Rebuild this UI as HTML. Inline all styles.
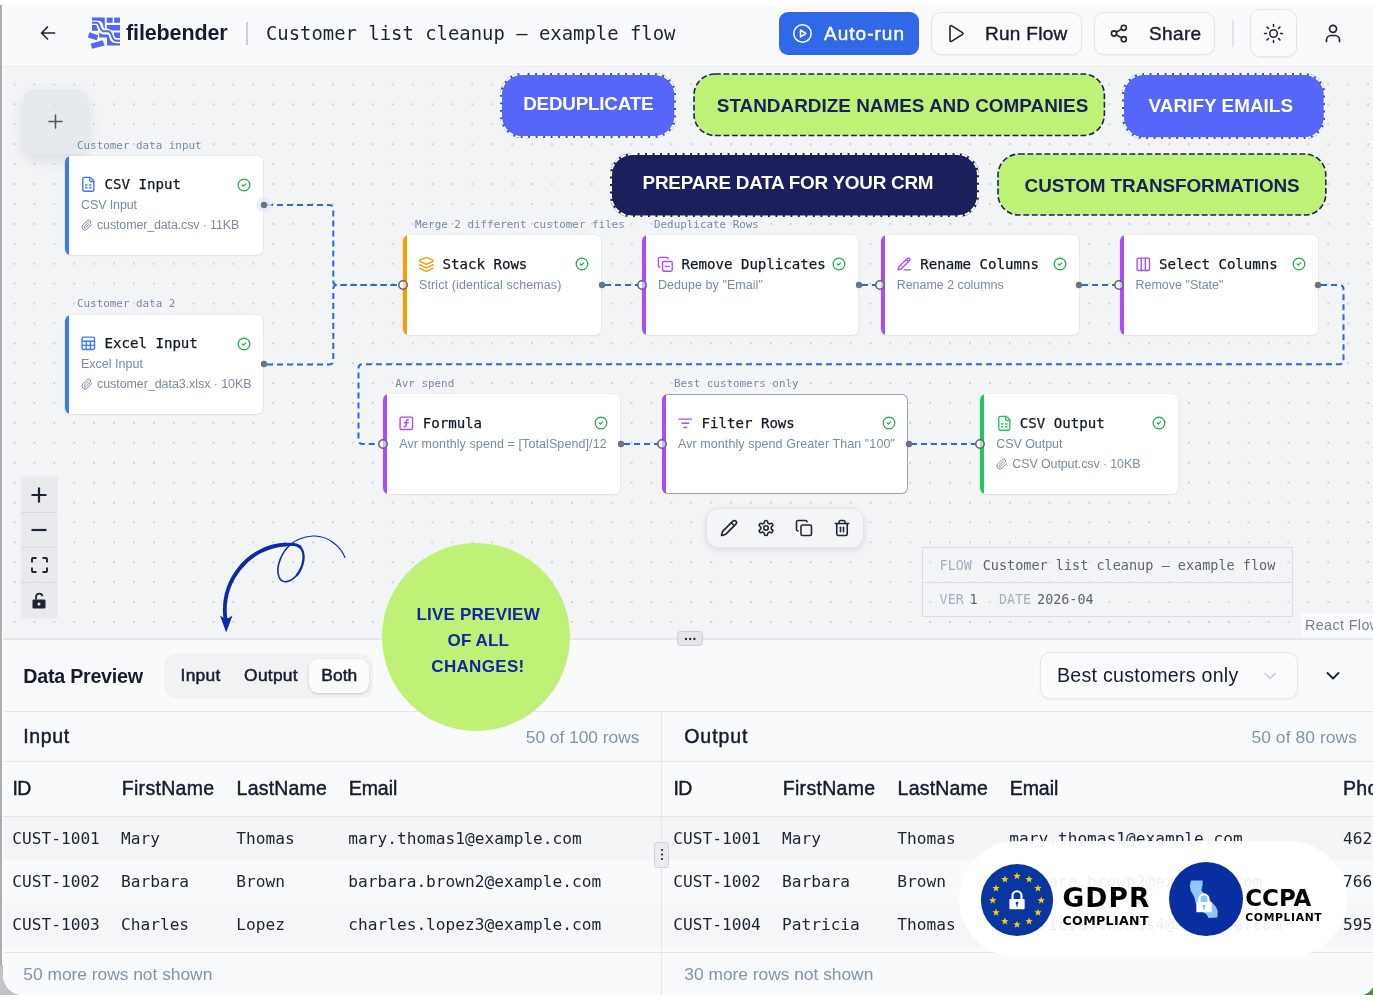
<!DOCTYPE html>
<html lang="en">
<head>
<meta charset="utf-8">
<title>filebender – Customer list cleanup – example flow</title>
<style>
*{box-sizing:border-box;margin:0;padding:0}
html,body{width:1373px;height:1000px;overflow:hidden;background:#fff}
body{font-family:"Liberation Sans",sans-serif;color:#111827;position:relative}
.abs{position:absolute}
.t{white-space:pre}
.mono{font-family:"DejaVu Sans Mono","Liberation Mono",monospace}
#edgeL{left:0;top:5px;width:2px;height:990px;background:#a9adb5}
#cornL{left:0;top:965px;width:30px;height:30px;background:#c0c3c9}
#cornR{left:1350px;top:970px;width:23px;height:25px;background:#5b8a4f}
#app{left:3px;top:5px;width:1371px;height:990px;background:#f9fafb;overflow:hidden;border-radius:0 0 14px 20px}
#hdr{left:0;top:0;width:1371px;height:62px;background:#f9fafb;border-bottom:1px solid #e9ebee}
.obtn{background:#fbfbfc;border:1px solid #e4e6ea;border-radius:10px;box-shadow:0 1px 2px rgba(0,0,0,.05)}
#cv{left:0;top:62px;width:1371px;height:572px;background-color:#f3f4f6;overflow:hidden;
 background-image:radial-gradient(circle,#d0d3d9 0.8px,transparent 1.25px);background-size:19.91px 19.91px;background-position:1.545px 7.545px}
.node{background:#fff;border-radius:6px;box-shadow:0 0 0 1px rgba(15,23,42,.035),0 1px 2px rgba(15,23,42,.05);overflow:hidden}
.node i{position:absolute;left:0;top:0;bottom:0;width:4.200px}
#pn{left:0;top:634px;width:1371px;height:356px;background:#f9fafb}

</style>
</head>
<body>
<div id="edgeL" class="abs"></div>
<div id="cornL" class="abs"></div>
<div id="cornR" class="abs"></div>
<div id="app" class="abs">
<div id="hdr" class="abs">
<svg class="abs" style="left:36px;top:20px" width="18" height="16" viewBox="0 0 18 16" fill="none" stroke="#1e2433" stroke-width="1.7" stroke-linecap="round" stroke-linejoin="round"><path d="M15.5 8H2.5M8.500 2L2.500 8l6 6"/></svg>
<svg class="abs" style="left:81px;top:8px" width="40" height="40" viewBox="0 0 40 40" ><g fill="#5566f4">
<path d="M8 4.600H20.800V15.600C19.200 15.600 19.600 12 18.400 10 17.200 8 15.500 7.400 13 7.400H8Z"/>
<rect x="22.800" y="4.600" width="5.800" height="5.200"/>
<rect x="30.200" y="4.600" width="5.800" height="5.200"/>
<path d="M22.800 12H36V17.600H29C26.500 17.400 25.500 15.800 22.800 15.600Z"/>
<path d="M30 19.600H36V25H33.300C31.200 25 30.200 23.500 30 21.500Z"/>
<path d="M8 12H12.400L14.200 17.800H8Z"/>
<path d="M15.200 19.800L18.500 21.500H24.200C25.600 24 25.400 28.400 29.800 29.800 32 30.400 34 30.300 36 30.300V32.600H23V24.600H15.200Z"/>
<path d="M3.800 24.400L5.500 19.200 14.300 22.300 12.600 27.300Z"/>
<path d="M6.500 30.800L18.600 27.200 20.600 32.400 8.300 35.800Z"/>
</g>
<path d="M8 9.700H12.600C16.600 9.700 15.200 18.200 19.600 18.200H24C28.600 18.200 27.200 27.700 31.600 27.700H36" fill="none" stroke="#5566f4" stroke-width="1.900"/></svg>
<div class="abs t" style="font-size:21.5px;line-height:30px;color:#161c2d;top:13px;left:123px;font-weight:700;letter-spacing:-0.12px;">filebender</div>
<div class="abs" style="left:243px;top:17px;width:1.5px;height:23px;background:#cdd2da"></div>
<div class="abs t mono" style="font-size:18.9px;line-height:26px;color:#1c2333;top:15px;left:263px;">Customer list cleanup – example flow</div>
<div class="abs" style="left:776px;top:7px;width:140px;height:43px;background:#3069e8;border-radius:9px"></div>
<svg class="abs" style="left:789px;top:18px" width="21" height="21" viewBox="0 0 21 21" fill="none" stroke="#fff" stroke-width="1.5" stroke-linejoin="round"><circle cx="10.500" cy="10.500" r="8.700"/><path d="M8.500 7l5.300 3.500-5.300 3.500z"/></svg>
<div class="abs t" style="font-size:19px;line-height:27px;color:#fff;top:15px;left:821px;-webkit-text-stroke:0.45px #fff;letter-spacing:1.02px;">Auto-run</div>
<div class="abs obtn" style="left:927.5px;top:7px;width:151px;height:42.5px;"></div>
<svg class="abs" style="left:943px;top:18px" width="20" height="21" viewBox="0 0 20 21" fill="none" stroke="#1e2433" stroke-width="1.6" stroke-linejoin="round"><path d="M4 3.500c0-.8.800-1.200 1.500-.8l11 7c.600.400.600 1.200 0 1.600l-11 7c-.7.400-1.500 0-1.500-.8z"/></svg>
<div class="abs t" style="font-size:19px;line-height:27px;color:#161c2d;top:15px;left:982px;-webkit-text-stroke:0.4px #161c2d;letter-spacing:0.28px;">Run Flow</div>
<div class="abs obtn" style="left:1090.5px;top:7px;width:121.5px;height:42.5px;"></div>
<svg class="abs" style="left:1106px;top:18px" width="20" height="21" viewBox="0 0 20 21" fill="none" stroke="#1e2433" stroke-width="1.6" stroke-linecap="round"><circle cx="14.800" cy="4.800" r="2.600"/><circle cx="5" cy="10.500" r="2.600"/><circle cx="14.800" cy="16.200" r="2.600"/><path d="M7.300 9.200l5.200-3.100M7.300 11.800l5.200 3.100"/></svg>
<div class="abs t" style="font-size:19px;line-height:27px;color:#161c2d;top:15px;left:1146px;-webkit-text-stroke:0.4px #161c2d;letter-spacing:0.36px;">Share</div>
<div class="abs" style="left:1229.3px;top:15px;width:1.4px;height:26.5px;background:#e3e5ea"></div>
<div class="abs obtn" style="left:1247px;top:4px;width:47px;height:48px;border-radius:10px"></div>
<svg class="abs" style="left:1259px;top:17px" width="23" height="23" viewBox="0 0 23 23" fill="none" stroke="#1e2433" stroke-width="1.5" stroke-linecap="round"><circle cx="11.500" cy="11.500" r="3.800"/><path d="M11.500 2.500v2M11.500 18.500v2M2.500 11.500h2M18.500 11.500h2M5.100 5.100l1.400 1.400M16.500 16.500l1.400 1.400M5.100 17.900l1.400-1.400M16.500 6.500l1.400-1.400"/></svg>
<svg class="abs" style="left:1320px;top:18px" width="20" height="21" viewBox="0 0 20 21" fill="none" stroke="#1e2433" stroke-width="1.7" stroke-linecap="round"><circle cx="10" cy="5.800" r="3.500"/><path d="M3.500 18.500v-1.500a4.500 4.500 0 0 1 4.500-4.500h4a4.500 4.500 0 0 1 4.500 4.500v1.500"/></svg>
</div>
<div id="cv" class="abs">
<div class="abs" style="left:20px;top:22px;width:64.5px;height:64.5px;background:rgba(224,226,231,.6);border-radius:13px;box-shadow:0 6px 14px rgba(15,23,42,.10)"></div>
<svg class="abs" style="left:44.5px;top:46.5px" width="15" height="15" viewBox="0 0 15 15" fill="none" stroke="#4b5565" stroke-width="1.5" stroke-linecap="round"><path d="M7.500 1v13M1 7.500h13"/></svg>
<svg class="abs" style="left:0;top:0" width="1370" height="572" viewBox="0 0 1370 572" fill="none" stroke="#2a65ee" stroke-width="2" stroke-dasharray="6 4"><path d="M264 138L326.3 138Q330.3 138 330.3 142L330.3 214Q330.3 218 334.3 218L395 218"/><path d="M264 297.5L326.3 297.5Q330.3 297.5 330.3 293.5L330.3 222Q330.3 218 334.3 218L395 218"/><path d="M602 218L635 218"/><path d="M859 218L873 218"/><path d="M1079 218L1112 218"/><path d="M1318 218L1336.5 218Q1340.5 218 1340.5 222L1340.5 293.3Q1340.5 297.3 1336.5 297.3L359.5 297.3Q355.5 297.3 355.5 301.3L355.5 373Q355.5 377 359.5 377L375 377"/><path d="M621 377L654 377"/><path d="M908 377L972 377"/></svg>
<div class="abs t mono" style="font-size:10.9px;line-height:15px;color:#7b889d;top:71px;left:74px;">Customer data input</div>
<div class="abs node" style="left:62px;top:88.5px;width:198px;height:99.5px;"><i style="background:#3b7cf6"></i></div>
<svg class="abs" style="left:77.2px;top:109.1px" width="16.6" height="16.6" viewBox="0 0 24 24" fill="none" stroke="#3b7cf6" stroke-width="2" stroke-linecap="round" stroke-linejoin="round"><path d="M15 2H6a2 2 0 0 0-2 2v16a2 2 0 0 0 2 2h12a2 2 0 0 0 2-2V7Z"/><path d="M14 2v4a2 2 0 0 0 2 2h4"/><path d="M8 13h2"/><path d="M14 13h2"/><path d="M8 17h2"/><path d="M14 17h2"/></svg>
<div class="abs t mono" style="font-size:14.1px;line-height:20px;color:#111827;top:107px;left:101.5px;-webkit-text-stroke:0.25px #111827;">CSV Input</div>
<svg class="abs" style="left:234px;top:110.5px" width="14" height="14" viewBox="0 0 24 24" fill="none" stroke="#1fa84a" stroke-width="2.1" stroke-linecap="round" stroke-linejoin="round"><circle cx="12" cy="12" r="10"/><path d="m9 12 2 2 4-4"/></svg>
<div class="abs t" style="font-size:12.5px;line-height:18px;color:#7b8ba3;top:129px;left:78px;letter-spacing:-0.11px;">CSV Input</div>
<svg class="abs" style="left:78px;top:151.7px" width="12" height="12" viewBox="0 0 24 24" fill="none" stroke="#7b8ba3" stroke-width="2" stroke-linecap="round" stroke-linejoin="round"><path d="m21.440 11.050-9.190 9.190a6 6 0 0 1-8.490-8.490l8.570-8.570A4 4 0 1 1 18 8.840l-8.590 8.570a2 2 0 0 1-2.830-2.830l8.490-8.480"/></svg>
<div class="abs t" style="font-size:12.5px;line-height:18px;color:#7b8ba3;top:149px;left:94px;letter-spacing:-0.15px;">customer_data.csv · 11KB</div>
<svg class="abs" style="left:252.7px;top:130.2px" width="16" height="16" viewBox="0 0 16 16" ><circle cx="8" cy="8" r="7.500" fill="#e6e9f6" opacity=".8"/><circle cx="8" cy="8" r="3.200" fill="#6b7280"/></svg>
<div class="abs t mono" style="font-size:10.9px;line-height:15px;color:#7b889d;top:229px;left:74px;">Customer data 2</div>
<div class="abs node" style="left:62px;top:247.5px;width:198px;height:99.5px;"><i style="background:#3b7cf6"></i></div>
<svg class="abs" style="left:77.2px;top:268.1px" width="16.6" height="16.6" viewBox="0 0 24 24" fill="none" stroke="#3b7cf6" stroke-width="2" stroke-linecap="round" stroke-linejoin="round"><rect width="18" height="18" x="3" y="3" rx="2"/><path d="M3 9h18"/><path d="M3 15h18"/><path d="M9 9v12"/><path d="M15 9v12"/></svg>
<div class="abs t mono" style="font-size:14.1px;line-height:20px;color:#111827;top:266px;left:101.5px;-webkit-text-stroke:0.25px #111827;">Excel Input</div>
<svg class="abs" style="left:234px;top:269.5px" width="14" height="14" viewBox="0 0 24 24" fill="none" stroke="#1fa84a" stroke-width="2.1" stroke-linecap="round" stroke-linejoin="round"><circle cx="12" cy="12" r="10"/><path d="m9 12 2 2 4-4"/></svg>
<div class="abs t" style="font-size:12.5px;line-height:18px;color:#7b8ba3;top:288px;left:78px;letter-spacing:0.01px;">Excel Input</div>
<svg class="abs" style="left:78px;top:310.7px" width="12" height="12" viewBox="0 0 24 24" fill="none" stroke="#7b8ba3" stroke-width="2" stroke-linecap="round" stroke-linejoin="round"><path d="m21.440 11.050-9.190 9.190a6 6 0 0 1-8.490-8.490l8.570-8.570A4 4 0 1 1 18 8.840l-8.590 8.570a2 2 0 0 1-2.830-2.830l8.490-8.480"/></svg>
<div class="abs t" style="font-size:12.5px;line-height:18px;color:#7b8ba3;top:308px;left:94px;letter-spacing:-0.07px;">customer_data3.xlsx · 10KB</div>
<svg class="abs" style="left:252.7px;top:289.2px" width="16" height="16" viewBox="0 0 16 16" ><circle cx="8" cy="8" r="3.200" fill="#6b7280"/></svg>
<div class="abs t mono" style="font-size:10.9px;line-height:15px;color:#7b889d;top:150px;left:412px;">Merge 2 different customer files</div>
<div class="abs node" style="left:400px;top:168px;width:198px;height:99.5px;"><i style="background:#f59e0b"></i></div>
<svg class="abs" style="left:415.2px;top:188.6px" width="16.6" height="16.6" viewBox="0 0 24 24" fill="none" stroke="#f59e0b" stroke-width="2" stroke-linecap="round" stroke-linejoin="round"><path d="m12.830 2.180a2 2 0 0 0-1.660 0L2.600 6.080a1 1 0 0 0 0 1.830l8.580 3.910a2 2 0 0 0 1.660 0l8.580-3.900a1 1 0 0 0 0-1.830Z"/><path d="m22 17.650-9.170 4.160a2 2 0 0 1-1.660 0L2 17.650"/><path d="m22 12.650-9.170 4.160a2 2 0 0 1-1.660 0L2 12.650"/></svg>
<div class="abs t mono" style="font-size:14.1px;line-height:20px;color:#111827;top:187px;left:439.5px;-webkit-text-stroke:0.25px #111827;">Stack Rows</div>
<svg class="abs" style="left:572px;top:190px" width="14" height="14" viewBox="0 0 24 24" fill="none" stroke="#1fa84a" stroke-width="2.1" stroke-linecap="round" stroke-linejoin="round"><circle cx="12" cy="12" r="10"/><path d="m9 12 2 2 4-4"/></svg>
<div class="abs t" style="font-size:12.5px;line-height:18px;color:#7b8ba3;top:209px;left:416px;letter-spacing:0.11px;">Strict (identical schemas)</div>
<svg class="abs" style="left:590.7px;top:209.7px" width="16" height="16" viewBox="0 0 16 16" ><circle cx="8" cy="8" r="3.200" fill="#6b7280"/></svg>
<svg class="abs" style="left:393.5px;top:211.7px" width="12" height="12" viewBox="0 0 12 12" ><circle cx="6" cy="6" r="4.200" fill="rgba(255,255,255,.55)" stroke="#5f6673" stroke-width="1.600"/></svg>
<div class="abs t mono" style="font-size:10.9px;line-height:15px;color:#7b889d;top:150px;left:651px;">Deduplicate Rows</div>
<div class="abs node" style="left:639px;top:168px;width:216.3px;height:99.5px;"><i style="background:#a94ef7"></i></div>
<svg class="abs" style="left:654.2px;top:188.6px" width="16.6" height="16.6" viewBox="0 0 24 24" fill="none" stroke="#a94ef7" stroke-width="2" stroke-linecap="round" stroke-linejoin="round"><line x1="12" x2="18" y1="15" y2="15"/><rect width="14" height="14" x="8" y="8" rx="2" ry="2"/><path d="M4 16c-1.100 0-2-.9-2-2V4c0-1.100.9-2 2-2h10c1.100 0 2 .9 2 2"/></svg>
<div class="abs t mono" style="font-size:14.1px;line-height:20px;color:#111827;top:187px;left:678.5px;-webkit-text-stroke:0.25px #111827;">Remove Duplicates</div>
<svg class="abs" style="left:829.3px;top:190px" width="14" height="14" viewBox="0 0 24 24" fill="none" stroke="#1fa84a" stroke-width="2.1" stroke-linecap="round" stroke-linejoin="round"><circle cx="12" cy="12" r="10"/><path d="m9 12 2 2 4-4"/></svg>
<div class="abs t" style="font-size:12.5px;line-height:18px;color:#7b8ba3;top:209px;left:655px;letter-spacing:0.05px;">Dedupe by "Email"</div>
<svg class="abs" style="left:848px;top:209.7px" width="16" height="16" viewBox="0 0 16 16" ><circle cx="8" cy="8" r="3.200" fill="#6b7280"/></svg>
<svg class="abs" style="left:632.5px;top:211.7px" width="12" height="12" viewBox="0 0 12 12" ><circle cx="6" cy="6" r="4.200" fill="rgba(255,255,255,.55)" stroke="#5f6673" stroke-width="1.600"/></svg>
<div class="abs node" style="left:877.7px;top:168px;width:198px;height:99.5px;"><i style="background:#a94ef7"></i></div>
<svg class="abs" style="left:892.9px;top:188.6px" width="16.6" height="16.6" viewBox="0 0 24 24" fill="none" stroke="#a94ef7" stroke-width="2" stroke-linecap="round" stroke-linejoin="round"><path d="M12 20h9"/><path d="M16.500 3.500a2.120 2.120 0 0 1 3 3L7 19l-4 1 1-4Z"/><path d="m15 5 3 3"/></svg>
<div class="abs t mono" style="font-size:14.1px;line-height:20px;color:#111827;top:187px;left:917.2px;-webkit-text-stroke:0.25px #111827;">Rename Columns</div>
<svg class="abs" style="left:1049.7px;top:190px" width="14" height="14" viewBox="0 0 24 24" fill="none" stroke="#1fa84a" stroke-width="2.1" stroke-linecap="round" stroke-linejoin="round"><circle cx="12" cy="12" r="10"/><path d="m9 12 2 2 4-4"/></svg>
<div class="abs t" style="font-size:12.5px;line-height:18px;color:#7b8ba3;top:209px;left:893.7px;letter-spacing:-0.04px;">Rename 2 columns</div>
<svg class="abs" style="left:1068.4px;top:209.7px" width="16" height="16" viewBox="0 0 16 16" ><circle cx="8" cy="8" r="3.200" fill="#6b7280"/></svg>
<svg class="abs" style="left:871.2px;top:211.7px" width="12" height="12" viewBox="0 0 12 12" ><circle cx="6" cy="6" r="4.200" fill="rgba(255,255,255,.55)" stroke="#5f6673" stroke-width="1.600"/></svg>
<div class="abs node" style="left:1116.5px;top:168px;width:198px;height:99.5px;"><i style="background:#a94ef7"></i></div>
<svg class="abs" style="left:1131.7px;top:188.6px" width="16.6" height="16.6" viewBox="0 0 24 24" fill="none" stroke="#a94ef7" stroke-width="2" stroke-linecap="round" stroke-linejoin="round"><rect width="18" height="18" x="3" y="3" rx="2"/><path d="M9 3v18"/><path d="M15 3v18"/></svg>
<div class="abs t mono" style="font-size:14.1px;line-height:20px;color:#111827;top:187px;left:1156px;-webkit-text-stroke:0.25px #111827;">Select Columns</div>
<svg class="abs" style="left:1288.5px;top:190px" width="14" height="14" viewBox="0 0 24 24" fill="none" stroke="#1fa84a" stroke-width="2.1" stroke-linecap="round" stroke-linejoin="round"><circle cx="12" cy="12" r="10"/><path d="m9 12 2 2 4-4"/></svg>
<div class="abs t" style="font-size:12.5px;line-height:18px;color:#7b8ba3;top:209px;left:1132.5px;letter-spacing:-0.01px;">Remove "State"</div>
<svg class="abs" style="left:1307.2px;top:209.7px" width="16" height="16" viewBox="0 0 16 16" ><circle cx="8" cy="8" r="3.200" fill="#6b7280"/></svg>
<svg class="abs" style="left:1110px;top:211.7px" width="12" height="12" viewBox="0 0 12 12" ><circle cx="6" cy="6" r="4.200" fill="rgba(255,255,255,.55)" stroke="#5f6673" stroke-width="1.600"/></svg>
<div class="abs t mono" style="font-size:10.9px;line-height:15px;color:#7b889d;top:309px;left:392.2px;">Avr spend</div>
<div class="abs node" style="left:380.2px;top:327.3px;width:236.7px;height:99.5px;"><i style="background:#a94ef7"></i></div>
<svg class="abs" style="left:395.4px;top:347.9px" width="16.6" height="16.6" viewBox="0 0 24 24" fill="none" stroke="#a94ef7" stroke-width="2" stroke-linecap="round" stroke-linejoin="round"><rect width="18" height="18" x="3" y="3" rx="2" ry="2"/><path d="M9 17c2 0 2.800-1 2.800-2.800V10c0-2 1-3.300 3.200-3"/><path d="M9 11.200h5.700"/></svg>
<div class="abs t mono" style="font-size:14.1px;line-height:20px;color:#111827;top:346px;left:419.7px;-webkit-text-stroke:0.25px #111827;">Formula</div>
<svg class="abs" style="left:590.9px;top:349.3px" width="14" height="14" viewBox="0 0 24 24" fill="none" stroke="#1fa84a" stroke-width="2.1" stroke-linecap="round" stroke-linejoin="round"><circle cx="12" cy="12" r="10"/><path d="m9 12 2 2 4-4"/></svg>
<div class="abs t" style="font-size:12.5px;line-height:18px;color:#7b8ba3;top:368px;left:396.2px;letter-spacing:0.09px;">Avr monthly spend = [TotalSpend]/12</div>
<svg class="abs" style="left:609.6px;top:369px" width="16" height="16" viewBox="0 0 16 16" ><circle cx="8" cy="8" r="3.200" fill="#6b7280"/></svg>
<svg class="abs" style="left:373.7px;top:371px" width="12" height="12" viewBox="0 0 12 12" ><circle cx="6" cy="6" r="4.200" fill="rgba(255,255,255,.55)" stroke="#5f6673" stroke-width="1.600"/></svg>
<div class="abs t mono" style="font-size:10.9px;line-height:15px;color:#7b889d;top:309px;left:671px;">Best customers only</div>
<div class="abs node" style="left:659px;top:327.2px;width:245.8px;height:99.8px;box-shadow:inset 0 0 0 1px #9aa1ad;"><i style="background:#a94ef7"></i></div>
<svg class="abs" style="left:674.2px;top:347.8px" width="16.6" height="16.6" viewBox="0 0 24 24" fill="none" stroke="#a94ef7" stroke-width="2" stroke-linecap="round" stroke-linejoin="round"><path d="M3 6h18"/><path d="M7 12h10"/><path d="M10 18h4"/></svg>
<div class="abs t mono" style="font-size:14.1px;line-height:20px;color:#111827;top:346px;left:698.5px;-webkit-text-stroke:0.25px #111827;">Filter Rows</div>
<svg class="abs" style="left:878.8px;top:349.2px" width="14" height="14" viewBox="0 0 24 24" fill="none" stroke="#1fa84a" stroke-width="2.1" stroke-linecap="round" stroke-linejoin="round"><circle cx="12" cy="12" r="10"/><path d="m9 12 2 2 4-4"/></svg>
<div class="abs t" style="font-size:12.5px;line-height:18px;color:#7b8ba3;top:368px;left:675px;letter-spacing:0.08px;">Avr monthly spend Greater Than "100"</div>
<svg class="abs" style="left:897.5px;top:368.9px" width="16" height="16" viewBox="0 0 16 16" ><circle cx="8" cy="8" r="3.200" fill="#6b7280"/></svg>
<svg class="abs" style="left:652.5px;top:370.9px" width="12" height="12" viewBox="0 0 12 12" ><circle cx="6" cy="6" r="4.200" fill="rgba(255,255,255,.55)" stroke="#5f6673" stroke-width="1.600"/></svg>
<div class="abs node" style="left:977.3px;top:327.3px;width:198px;height:99.5px;"><i style="background:#22c55e"></i></div>
<svg class="abs" style="left:992.5px;top:347.9px" width="16.6" height="16.6" viewBox="0 0 24 24" fill="none" stroke="#22c55e" stroke-width="2" stroke-linecap="round" stroke-linejoin="round"><path d="M15 2H6a2 2 0 0 0-2 2v16a2 2 0 0 0 2 2h12a2 2 0 0 0 2-2V7Z"/><path d="M14 2v4a2 2 0 0 0 2 2h4"/><path d="M8 13h2"/><path d="M14 13h2"/><path d="M8 17h2"/><path d="M14 17h2"/></svg>
<div class="abs t mono" style="font-size:14.1px;line-height:20px;color:#111827;top:346px;left:1016.8px;-webkit-text-stroke:0.25px #111827;">CSV Output</div>
<svg class="abs" style="left:1149.3px;top:349.3px" width="14" height="14" viewBox="0 0 24 24" fill="none" stroke="#1fa84a" stroke-width="2.1" stroke-linecap="round" stroke-linejoin="round"><circle cx="12" cy="12" r="10"/><path d="m9 12 2 2 4-4"/></svg>
<div class="abs t" style="font-size:12.5px;line-height:18px;color:#7b8ba3;top:368px;left:993.3px;letter-spacing:-0.07px;">CSV Output</div>
<svg class="abs" style="left:993.3px;top:390.5px" width="12" height="12" viewBox="0 0 24 24" fill="none" stroke="#7b8ba3" stroke-width="2" stroke-linecap="round" stroke-linejoin="round"><path d="m21.440 11.050-9.190 9.190a6 6 0 0 1-8.490-8.490l8.570-8.570A4 4 0 1 1 18 8.840l-8.590 8.570a2 2 0 0 1-2.830-2.830l8.490-8.480"/></svg>
<div class="abs t" style="font-size:12.5px;line-height:18px;color:#7b8ba3;top:388px;left:1009.3px;letter-spacing:-0.12px;">CSV Output.csv · 10KB</div>
<svg class="abs" style="left:970.8px;top:371px" width="12" height="12" viewBox="0 0 12 12" ><circle cx="6" cy="6" r="4.200" fill="rgba(255,255,255,.55)" stroke="#5f6673" stroke-width="1.600"/></svg>
<div class="abs" style="left:703px;top:441.3px;width:158.2px;height:39.6px;background:#f4f5f7;border:1px solid #e3e5e9;border-radius:12px;box-shadow:0 2px 6px rgba(15,23,42,.10)"></div>
<svg class="abs" style="left:716.5px;top:452.3px" width="18" height="18" viewBox="0 0 24 24" fill="none" stroke="#1e2433" stroke-width="2.1" stroke-linecap="round" stroke-linejoin="round"><path d="M21.174 6.812a1 1 0 0 0-3.986-3.987L3.842 16.174a2 2 0 0 0-.5.830l-1.321 4.352a.5.500 0 0 0 .623.622l4.353-1.320a2 2 0 0 0 .830-.497z"/><path d="m15 5 4 4"/></svg>
<svg class="abs" style="left:754.3px;top:452.3px" width="18" height="18" viewBox="0 0 24 24" fill="none" stroke="#1e2433" stroke-width="2.1" stroke-linecap="round" stroke-linejoin="round"><path d="M12.220 2h-.440a2 2 0 0 0-2 2v.180a2 2 0 0 1-1 1.730l-.430.250a2 2 0 0 1-2 0l-.150-.080a2 2 0 0 0-2.730.730l-.220.380a2 2 0 0 0 .730 2.730l.150.100a2 2 0 0 1 1 1.720v.510a2 2 0 0 1-1 1.740l-.150.090a2 2 0 0 0-.730 2.730l.220.380a2 2 0 0 0 2.730.730l.150-.080a2 2 0 0 1 2 0l.430.250a2 2 0 0 1 1 1.730V20a2 2 0 0 0 2 2h.440a2 2 0 0 0 2-2v-.180a2 2 0 0 1 1-1.730l.430-.250a2 2 0 0 1 2 0l.150.080a2 2 0 0 0 2.730-.730l.220-.390a2 2 0 0 0-.730-2.730l-.150-.080a2 2 0 0 1-1-1.740v-.500a2 2 0 0 1 1-1.740l.150-.090a2 2 0 0 0 .730-2.730l-.220-.380a2 2 0 0 0-2.730-.730l-.150.080a2 2 0 0 1-2 0l-.430-.250a2 2 0 0 1-1-1.730V4a2 2 0 0 0-2-2z"/><circle cx="12" cy="12" r="3"/></svg>
<svg class="abs" style="left:792px;top:452.3px" width="18" height="18" viewBox="0 0 24 24" fill="none" stroke="#1e2433" stroke-width="2.1" stroke-linecap="round" stroke-linejoin="round"><rect width="14" height="14" x="8" y="8" rx="2" ry="2"/><path d="M4 16c-1.100 0-2-.9-2-2V4c0-1.100.9-2 2-2h10c1.100 0 2 .9 2 2"/></svg>
<svg class="abs" style="left:829.6px;top:452.3px" width="18" height="18" viewBox="0 0 24 24" fill="none" stroke="#1e2433" stroke-width="2.1" stroke-linecap="round" stroke-linejoin="round"><path d="M3 6h18"/><path d="M19 6v14c0 1-1 2-2 2H7c-1 0-2-1-2-2V6"/><path d="M8 6V4c0-1 1-2 2-2h4c1 0 2 1 2 2v2"/><line x1="10" x2="10" y1="11" y2="17"/><line x1="14" x2="14" y1="11" y2="17"/></svg>
<div class="abs" style="left:919px;top:480.2px;width:370.8px;height:69.8px;border:1.800px solid #dadde2;background:rgba(243,244,246,.35)"></div>
<div class="abs" style="left:919.4px;top:514.5px;width:369.8px;height:1.6px;background:#dadde2"></div>
<div class="abs t mono" style="font-size:13.4px;line-height:19px;color:#a3b0c4;top:489px;left:936.6px;">FLOW</div>
<div class="abs t mono" style="font-size:13.5px;line-height:19px;color:#5b6472;top:489px;left:979.7px;">Customer list cleanup – example flow</div>
<div class="abs t mono" style="font-size:13.4px;line-height:19px;color:#a3b0c4;top:523px;left:936.6px;">VER</div>
<div class="abs t mono" style="font-size:13.4px;line-height:19px;color:#5b6472;top:523px;left:966.5px;">1</div>
<div class="abs t mono" style="font-size:13.4px;line-height:19px;color:#a3b0c4;top:523px;left:995.9px;">DATE</div>
<div class="abs t mono" style="font-size:13.4px;line-height:19px;color:#5b6472;top:523px;left:1034.1px;">2026-04</div>
<div class="abs" style="left:1298px;top:546px;width:81px;height:26px;background:rgba(249,250,251,.85)"></div>
<div class="abs t" style="font-size:14.3px;line-height:20px;color:#7a818d;top:548px;left:1302px;letter-spacing:0.4px;">React Flow</div>
<div class="abs" style="left:18.2px;top:410px;width:36px;height:140.8px;background:rgba(229,231,235,.75);box-shadow:0 0 2px rgba(0,0,0,.06)"></div>
<div class="abs" style="left:18.2px;top:444.6px;width:36px;height:1px;background:#d9dce1"></div>
<div class="abs" style="left:18.2px;top:479.8px;width:36px;height:1px;background:#d9dce1"></div>
<div class="abs" style="left:18.2px;top:514.8px;width:36px;height:1px;background:#d9dce1"></div>
<svg class="abs" style="left:27px;top:419px" width="18" height="18" viewBox="0 0 18 18" fill="none" stroke="#1e2433" stroke-width="2.2"><path d="M9 1.500v15M1.500 9h15"/></svg>
<svg class="abs" style="left:27px;top:453.5px" width="18" height="18" viewBox="0 0 18 18" fill="none" stroke="#1e2433" stroke-width="2.2"><path d="M1.500 9h15"/></svg>
<svg class="abs" style="left:27.5px;top:490px" width="17" height="16" viewBox="0 0 17 16" fill="none" stroke="#1e2433" stroke-width="1.9"><path d="M1 5.500v-3.500a1 1 0 0 1 1-1h3.500M11.500 1h3.500a1 1 0 0 1 1 1v3.500M16 10.500v3.500a1 1 0 0 1-1 1h-3.500M5.500 15h-3.500a1 1 0 0 1-1-1v-3.500"/></svg>
<svg class="abs" style="left:29px;top:525px" width="14" height="17" viewBox="0 0 14 17" ><path d="M1.500 7.500h11a1 1 0 0 1 1 1v7a1 1 0 0 1-1 1h-11a1 1 0 0 1-1-1v-7a1 1 0 0 1 1-1z" fill="#1e2433"/><path d="M4 7.500v-2.500a3.300 3.300 0 0 1 6.500-.8" fill="none" stroke="#1e2433" stroke-width="1.800"/><circle cx="7" cy="12" r="1.500" fill="#e9ebee"/></svg>
<svg class="abs" style="left:496.8px;top:6.3px" width="176.3" height="65" viewBox="0 0 176.3 65" ><rect x="1" y="1" width="174.3" height="63" rx="21" fill="#5566f9" stroke="#3a46c6" stroke-width="2"/><rect x="1" y="1" width="174.3" height="63" rx="21" fill="none" stroke="#fff" stroke-width="2" stroke-dasharray="5.600 1.900"/></svg>
<div class="abs t" style="font-size:18.9px;line-height:26px;color:#fff;top:24px;left:520.2px;font-weight:700;letter-spacing:-0.25px;">DEDUPLICATE</div>
<svg class="abs" style="left:690.3px;top:6px" width="412.4" height="63.5" viewBox="0 0 412.4 63.5" ><rect x="1" y="1" width="410.4" height="61.5" rx="21" fill="#bef277" stroke="#1b1f5c" stroke-width="1.600" stroke-dasharray="5.800 2.700"/></svg>
<div class="abs t" style="font-size:18.9px;line-height:26px;color:#1b1f5c;top:26px;left:713.8px;font-weight:700;letter-spacing:0.01px;">STANDARDIZE NAMES AND COMPANIES</div>
<svg class="abs" style="left:1118.5px;top:5.8px" width="203.7" height="66.2" viewBox="0 0 203.7 66.2" ><rect x="1" y="1" width="201.7" height="64.2" rx="21" fill="#5566f9" stroke="#3a46c6" stroke-width="2"/><rect x="1" y="1" width="201.7" height="64.2" rx="21" fill="none" stroke="#fff" stroke-width="2" stroke-dasharray="5.600 1.900"/></svg>
<div class="abs t" style="font-size:18.9px;line-height:26px;color:#fff;top:26px;left:1145.6px;font-weight:700;letter-spacing:0.02px;">VARIFY EMAILS</div>
<svg class="abs" style="left:607px;top:86px" width="369" height="64.4" viewBox="0 0 369 64.4" ><rect x="1" y="1" width="367" height="62.4" rx="21" fill="#1b1f5c" stroke="#1b1f5c" stroke-width="2"/><rect x="1" y="1" width="367" height="62.4" rx="21" fill="none" stroke="#fff" stroke-width="2" stroke-dasharray="5.600 1.900"/></svg>
<div class="abs t" style="font-size:18.9px;line-height:26px;color:#fff;top:103px;left:639.6px;font-weight:700;letter-spacing:-0.25px;">PREPARE DATA FOR YOUR CRM</div>
<svg class="abs" style="left:994px;top:86px" width="329.8" height="63" viewBox="0 0 329.8 63" ><rect x="1" y="1" width="327.8" height="61" rx="21" fill="#bef277" stroke="#1b1f5c" stroke-width="1.600" stroke-dasharray="5.800 2.700"/></svg>
<div class="abs t" style="font-size:18.9px;line-height:26px;color:#1b1f5c;top:106px;left:1021.6px;font-weight:700;letter-spacing:-0.11px;">CUSTOM TRANSFORMATIONS</div>
</div>
<div id="pn" class="abs">
<div class="abs t" style="font-size:19.7px;line-height:28px;color:#161c2d;top:23px;left:20.3px;font-weight:700;letter-spacing:-0.26px;">Data Preview</div>
<div class="abs" style="left:160.7px;top:15.1px;width:209.8px;height:43.7px;background:#f1f2f4;border-radius:11px"></div>
<div class="abs t" style="font-size:17.4px;line-height:24px;color:#161c2d;top:24px;left:177.6px;-webkit-text-stroke:0.5px #161c2d;letter-spacing:0.26px;">Input</div>
<div class="abs t" style="font-size:17.4px;line-height:24px;color:#161c2d;top:24px;left:241.1px;-webkit-text-stroke:0.5px #161c2d;letter-spacing:0.26px;">Output</div>
<div class="abs" style="left:305.8px;top:20.4px;width:60.6px;height:33.2px;background:#fcfcfd;border-radius:9px;box-shadow:0 1px 3px rgba(15,23,42,.13),0 1px 2px rgba(15,23,42,.06)"></div>
<div class="abs t" style="font-size:17.4px;line-height:24px;color:#161c2d;top:24px;left:318.3px;-webkit-text-stroke:0.5px #161c2d;letter-spacing:0.05px;">Both</div>
<div class="abs" style="left:1037px;top:13.2px;width:257.5px;height:46.7px;background:#fafbfc;border:1px solid #e4e6ea;border-radius:10px;box-shadow:0 1px 2px rgba(15,23,42,.05)"></div>
<div class="abs t" style="font-size:19.6px;line-height:27px;color:#161c2d;top:23px;left:1054px;letter-spacing:0.27px;">Best customers only</div>
<svg class="abs" style="left:1260px;top:31px" width="14" height="12" viewBox="0 0 14 12" fill="none" stroke="#c5cad3" stroke-width="1.5" stroke-linecap="round" stroke-linejoin="round"><path d="M2 3.500l5 5 5-5"/></svg>
<svg class="abs" style="left:1322px;top:30px" width="16" height="14" viewBox="0 0 16 14" fill="none" stroke="#1e2433" stroke-width="1.9" stroke-linecap="round" stroke-linejoin="round"><path d="M2.500 4l5.500 5.500 5.500-5.500"/></svg>
<div class="abs" style="left:0px;top:71.6px;width:1370px;height:1px;background:#e4e6ea"></div>
<div class="abs" style="left:0px;top:121.5px;width:1370px;height:1px;background:#e4e6ea"></div>
<div class="abs" style="left:0px;top:176.7px;width:1370px;height:1px;background:#e4e6ea"></div>
<div class="abs" style="left:0px;top:312.5px;width:1370px;height:1px;background:#e4e6ea"></div>
<div class="abs" style="left:0px;top:178px;width:1370px;height:42.5px;background:#f3f5f7"></div>
<div class="abs" style="left:0px;top:264.3px;width:1370px;height:43.5px;background:#f5f6f8"></div>
<div class="abs" style="left:657.8px;top:73px;width:1.2px;height:283px;background:#e4e6ea"></div>
<div class="abs t" style="font-size:19.5px;line-height:27px;color:#161c2d;top:84px;left:20.3px;-webkit-text-stroke:0.45px #161c2d;letter-spacing:0.62px;">Input</div>
<div class="abs t" style="font-size:17.4px;line-height:24px;color:#8393aa;top:86px;right:734.7px;letter-spacing:-0.04px;">50 of 100 rows</div>
<div class="abs t" style="font-size:19.5px;line-height:27px;color:#161c2d;top:136px;left:9.5px;-webkit-text-stroke:0.45px #161c2d;letter-spacing:-0.75px;">ID</div>
<div class="abs t" style="font-size:19.5px;line-height:27px;color:#161c2d;top:136px;left:118.8px;-webkit-text-stroke:0.45px #161c2d;letter-spacing:0.29px;">FirstName</div>
<div class="abs t" style="font-size:19.5px;line-height:27px;color:#161c2d;top:136px;left:233.6px;-webkit-text-stroke:0.45px #161c2d;letter-spacing:0.2px;">LastName</div>
<div class="abs t" style="font-size:19.5px;line-height:27px;color:#161c2d;top:136px;left:345.7px;-webkit-text-stroke:0.45px #161c2d;letter-spacing:-0.05px;">Email</div>
<div class="abs t mono" style="font-size:16.16px;line-height:23px;color:#1c2333;top:188px;left:9.3px;">CUST-1001</div>
<div class="abs t mono" style="font-size:16.16px;line-height:23px;color:#1c2333;top:188px;left:118px;">Mary</div>
<div class="abs t mono" style="font-size:16.16px;line-height:23px;color:#1c2333;top:188px;left:233.3px;">Thomas</div>
<div class="abs t mono" style="font-size:16.16px;line-height:23px;color:#1c2333;top:188px;left:345.3px;">mary.thomas1@example.com</div>
<div class="abs t mono" style="font-size:16.16px;line-height:23px;color:#1c2333;top:231px;left:9.3px;">CUST-1002</div>
<div class="abs t mono" style="font-size:16.16px;line-height:23px;color:#1c2333;top:231px;left:118px;">Barbara</div>
<div class="abs t mono" style="font-size:16.16px;line-height:23px;color:#1c2333;top:231px;left:233.3px;">Brown</div>
<div class="abs t mono" style="font-size:16.16px;line-height:23px;color:#1c2333;top:231px;left:345.3px;">barbara.brown2@example.com</div>
<div class="abs t mono" style="font-size:16.16px;line-height:23px;color:#1c2333;top:274px;left:9.3px;">CUST-1003</div>
<div class="abs t mono" style="font-size:16.16px;line-height:23px;color:#1c2333;top:274px;left:118px;">Charles</div>
<div class="abs t mono" style="font-size:16.16px;line-height:23px;color:#1c2333;top:274px;left:233.3px;">Lopez</div>
<div class="abs t mono" style="font-size:16.16px;line-height:23px;color:#1c2333;top:274px;left:345.3px;">charles.lopez3@example.com</div>
<div class="abs t" style="font-size:17.4px;line-height:24px;color:#8393aa;top:323px;left:20.3px;letter-spacing:-0.02px;">50 more rows not shown</div>
<div class="abs t" style="font-size:19.5px;line-height:27px;color:#161c2d;top:84px;left:681.3px;-webkit-text-stroke:0.45px #161c2d;letter-spacing:0.91px;">Output</div>
<div class="abs t" style="font-size:17.4px;line-height:24px;color:#8393aa;top:86px;right:17px;letter-spacing:0.09px;">50 of 80 rows</div>
<div class="abs t" style="font-size:19.5px;line-height:27px;color:#161c2d;top:136px;left:670.5px;-webkit-text-stroke:0.45px #161c2d;letter-spacing:-0.75px;">ID</div>
<div class="abs t" style="font-size:19.5px;line-height:27px;color:#161c2d;top:136px;left:779.8px;-webkit-text-stroke:0.45px #161c2d;letter-spacing:0.29px;">FirstName</div>
<div class="abs t" style="font-size:19.5px;line-height:27px;color:#161c2d;top:136px;left:894.6px;-webkit-text-stroke:0.45px #161c2d;letter-spacing:0.2px;">LastName</div>
<div class="abs t" style="font-size:19.5px;line-height:27px;color:#161c2d;top:136px;left:1006.7px;-webkit-text-stroke:0.45px #161c2d;letter-spacing:-0.05px;">Email</div>
<div class="abs t mono" style="font-size:16.16px;line-height:23px;color:#1c2333;top:188px;left:670.3px;">CUST-1001</div>
<div class="abs t mono" style="font-size:16.16px;line-height:23px;color:#1c2333;top:188px;left:779px;">Mary</div>
<div class="abs t mono" style="font-size:16.16px;line-height:23px;color:#1c2333;top:188px;left:894.3px;">Thomas</div>
<div class="abs t mono" style="font-size:16.16px;line-height:23px;color:#1c2333;top:188px;left:1006.3px;">mary.thomas1@example.com</div>
<div class="abs t mono" style="font-size:16.16px;line-height:23px;color:#1c2333;top:231px;left:670.3px;">CUST-1002</div>
<div class="abs t mono" style="font-size:16.16px;line-height:23px;color:#1c2333;top:231px;left:779px;">Barbara</div>
<div class="abs t mono" style="font-size:16.16px;line-height:23px;color:#1c2333;top:231px;left:894.3px;">Brown</div>
<div class="abs t mono" style="font-size:16.16px;line-height:23px;color:#1c2333;top:231px;left:1006.3px;">barbara.brown2@example.com</div>
<div class="abs t mono" style="font-size:16.16px;line-height:23px;color:#1c2333;top:274px;left:670.3px;">CUST-1004</div>
<div class="abs t mono" style="font-size:16.16px;line-height:23px;color:#1c2333;top:274px;left:779px;">Patricia</div>
<div class="abs t mono" style="font-size:16.16px;line-height:23px;color:#1c2333;top:274px;left:894.3px;">Thomas</div>
<div class="abs t mono" style="font-size:16.16px;line-height:23px;color:#1c2333;top:274px;left:1006.3px;">patricia.thomas4@example.com</div>
<div class="abs t" style="font-size:17.4px;line-height:24px;color:#8393aa;top:323px;left:681.3px;letter-spacing:-0.02px;">30 more rows not shown</div>
<div class="abs t" style="font-size:19.5px;line-height:27px;color:#161c2d;top:136px;left:1340px;-webkit-text-stroke:0.45px #161c2d;letter-spacing:0.3px;">Phone</div>
<div class="abs t mono" style="font-size:16.16px;line-height:23px;color:#1c2333;top:188px;left:1340px;">462-555-0101</div>
<div class="abs t mono" style="font-size:16.16px;line-height:23px;color:#1c2333;top:231px;left:1340px;">766-555-0102</div>
<div class="abs t mono" style="font-size:16.16px;line-height:23px;color:#1c2333;top:274px;left:1340px;">595-555-0104</div>
<div class="abs" style="left:650.7px;top:202.5px;width:15.3px;height:26px;background:#e9ebee;border:1px solid #cfd3d9;border-radius:3px"></div>
<svg class="abs" style="left:656.5px;top:209px" width="4" height="13" viewBox="0 0 4 13" fill="#1e2433"><circle cx="2" cy="2" r="1.100"/><circle cx="2" cy="6.500" r="1.100"/><circle cx="2" cy="11" r="1.100"/></svg>
</div>
<div class="abs" style="left:0px;top:633.4px;width:1379px;height:2px;background:#e4e6ea"></div>
<div class="abs" style="left:674px;top:626.4px;width:26.4px;height:15px;background:rgba(226,228,232,.88);border:1px solid #c9cdd4;border-radius:3.500px"></div>
<svg class="abs" style="left:681px;top:632px" width="13" height="4" viewBox="0 0 13 4" fill="#1e2433"><circle cx="2" cy="2" r="1.150"/><circle cx="6.200" cy="2" r="1.150"/><circle cx="10.400" cy="2" r="1.150"/></svg>
<svg class="abs" style="left:207px;top:520px" width="150" height="120" viewBox="0 0 150 120" ><g fill="none" stroke="#0d2aa6" stroke-linecap="round" stroke-linejoin="round"><path d="M135 32.500C131 22 118 10 103 11 92 12 84 16 80 20" stroke-width="1.100"/><path d="M80 20C72 27 65 42 69 52 72 59 80 58 87 50" stroke-width="1.600"/><path d="M87 50C94 41 96 28 90 22" stroke-width="2.300"/><path d="M90 22C86 18.500 80 19 76 19.500" stroke-width="3.100"/><path d="M76 19.500C40 21 8 55 16.200 100" stroke-width="3.800"/></g><path d="M16.200 107.500L10 90.500Q16.200 96 22.500 90.500Z" fill="#0d2aa6"/></svg>
<div class="abs" style="left:378.7px;top:537.6px;width:188px;height:188px;background:#c0f177;border-radius:50%"></div>
<div class="abs t" style="font-size:17px;line-height:24px;color:#1026a6;top:598px;left:413.5px;font-weight:700;letter-spacing:0.21px;">LIVE PREVIEW</div>
<div class="abs t" style="font-size:17px;line-height:24px;color:#1026a6;top:624px;left:444.6px;font-weight:700;letter-spacing:0.09px;">OF ALL</div>
<div class="abs t" style="font-size:17px;line-height:24px;color:#1026a6;top:650px;left:428.3px;font-weight:700;letter-spacing:0.33px;">CHANGES!</div>
<div class="abs" style="left:955.9px;top:836.4px;width:388px;height:115.8px;background:rgba(255,255,255,.93);border-radius:58px"></div>
<svg class="abs" style="left:976.6px;top:857.6px" width="74" height="74" viewBox="0 0 74 74" ><circle cx="37" cy="37" r="36.100" fill="#0a379f"/><g fill="#fbcc0d"><polygon points="37,9.3 37.96,11.87 40.71,11.99 38.56,13.71 39.29,16.36 37,14.84 34.71,16.36 35.44,13.71 33.29,11.99 36.04,11.87"/><polygon points="49.1,12.54 50.06,15.12 52.81,15.24 50.66,16.95 51.39,19.6 49.1,18.08 46.81,19.6 47.54,16.95 45.39,15.24 48.14,15.12"/><polygon points="57.96,21.4 58.92,23.97 61.67,24.09 59.52,25.81 60.25,28.46 57.96,26.94 55.67,28.46 56.4,25.81 54.25,24.09 57,23.97"/><polygon points="61.2,33.5 62.16,36.07 64.91,36.19 62.76,37.91 63.49,40.56 61.2,39.04 58.91,40.56 59.64,37.91 57.49,36.19 60.24,36.07"/><polygon points="57.96,45.6 58.92,48.17 61.67,48.29 59.52,50.01 60.25,52.66 57.96,51.14 55.67,52.66 56.4,50.01 54.25,48.29 57,48.17"/><polygon points="49.1,54.46 50.06,57.03 52.81,57.15 50.66,58.86 51.39,61.51 49.1,60 46.81,61.51 47.54,58.86 45.39,57.15 48.14,57.03"/><polygon points="37,57.7 37.96,60.27 40.71,60.39 38.56,62.11 39.29,64.76 37,63.24 34.71,64.76 35.44,62.11 33.29,60.39 36.04,60.27"/><polygon points="24.9,54.46 25.86,57.03 28.61,57.15 26.46,58.86 27.19,61.51 24.9,60 22.61,61.51 23.34,58.86 21.19,57.15 23.94,57.03"/><polygon points="16.04,45.6 17,48.17 19.75,48.29 17.6,50.01 18.33,52.66 16.04,51.14 13.75,52.66 14.48,50.01 12.33,48.29 15.08,48.17"/><polygon points="12.8,33.5 13.76,36.07 16.51,36.19 14.36,37.91 15.09,40.56 12.8,39.04 10.51,40.56 11.24,37.91 9.09,36.19 11.84,36.07"/><polygon points="16.04,21.4 17,23.97 19.75,24.09 17.6,25.81 18.33,28.46 16.04,26.94 13.75,28.46 14.48,25.81 12.33,24.09 15.08,23.97"/><polygon points="24.9,12.54 25.86,15.12 28.61,15.24 26.46,16.95 27.19,19.6 24.9,18.08 22.61,19.6 23.34,16.95 21.19,15.24 23.94,15.12"/></g><g transform="translate(37 36.800) scale(.9)"><path d="M-7.500 -1h15a1 1 0 0 1 1 1v9.500a1 1 0 0 1-1 1h-15a1 1 0 0 1-1-1v-9.500a1 1 0 0 1 1-1z" fill="#fff"/><path d="M-5 -1v-3.500a5 5 0 0 1 10 0v3.500" fill="none" stroke="#fff" stroke-width="2.400"/><circle cx="0" cy="3.600" r="1.500" fill="#0a379f"/><rect x="-0.700" y="4" width="1.400" height="3.500" fill="#0a379f"/></g></svg>
<div class="abs t" style="font-size:26.5px;line-height:37px;color:#000;top:874px;left:1059.5px;font-weight:700;letter-spacing:1.11px;font-family:'DejaVu Sans','Liberation Sans',sans-serif;">GDPR</div>
<div class="abs t" style="font-size:12.6px;line-height:18px;color:#000;top:907px;left:1059.5px;font-weight:700;letter-spacing:0.35px;font-family:'DejaVu Sans','Liberation Sans',sans-serif;">COMPLIANT</div>
<svg class="abs" style="left:1166px;top:856.6px" width="74" height="74" viewBox="0 0 74 74" ><circle cx="37" cy="37" r="37" fill="#082ea0"/><g transform="translate(37 37)"><path d="M-15 -18.600H-3.400V-14.200L-4.600 -8.600 10.200 8.200 11.800 12.200 11.400 18.600 2.600 19 0.600 15.400 -6.600 10.600 -10.200 4.200 -11.800 -2.200 -15.400 -8.600 -16.200 -13.400Z" fill="#93c5fd"/></g><g transform="translate(35 40.900) scale(.9)"><path d="M-7.500 -1h15a1 1 0 0 1 1 1v9.500a1 1 0 0 1-1 1h-15a1 1 0 0 1-1-1v-9.500a1 1 0 0 1 1-1z" fill="#fff"/><path d="M-5 -1v-3.500a5 5 0 0 1 10 0v3.500" fill="none" stroke="#fff" stroke-width="2.400"/><circle cx="0" cy="3.600" r="1.500" fill="#7fb6f5"/><rect x="-0.700" y="4" width="1.400" height="3.500" fill="#7fb6f5"/></g></svg>
<div class="abs t" style="font-size:23px;line-height:32px;color:#000;top:877px;left:1242.3px;font-weight:700;letter-spacing:-0.08px;font-family:'DejaVu Sans','Liberation Sans',sans-serif;">CCPA</div>
<div class="abs t" style="font-size:10.8px;line-height:15px;color:#000;top:905px;left:1242.3px;font-weight:700;letter-spacing:0.62px;font-family:'DejaVu Sans','Liberation Sans',sans-serif;">COMPLIANT</div>
</div>
</body>
</html>
